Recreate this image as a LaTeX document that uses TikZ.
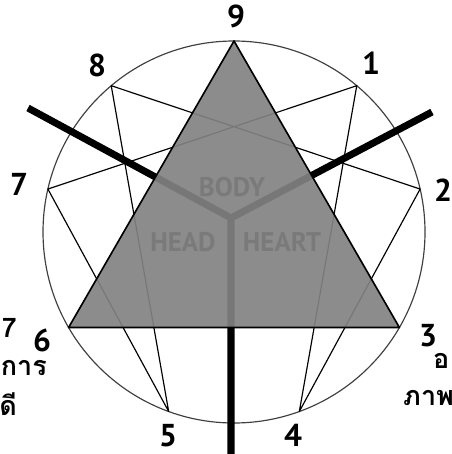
\documentclass[tikz,border=0pt]{standalone}
\usepackage{fontspec}
\setmainfont{PT Sans}
\newfontfamily\thaifont[Script=Thai]{Loma}
\definecolor{trigray}{HTML}{828282}
\definecolor{ringgray}{HTML}{404040}

\tikzset{
  numlabel/.style={font=\bfseries\fontsize{27}{29}\selectfont, inner sep=0pt},
  centretext/.style={font=\bfseries\fontsize{23}{25}\selectfont, inner sep=0pt, text=black!85},
  thaitext/.style={font=\thaifont\bfseries\fontsize{23}{25}\selectfont, inner sep=0pt},
  hexline/.style={line width=1pt, black},
  spoke/.style={line width=6pt}
}

\begin{document}
\begin{tikzpicture}[x=0.03cm, y=-0.03cm]
  \clip (0,0) rectangle (451,454);

  % ring and its nine points
  \coordinate (c) at (234,232);
  \draw[ringgray, line width=1pt] (c) circle [radius=191];
  \foreach \n/\a in {9/-90,1/-50,2/-13,3/30,4/70,5/110,6/150,7/193,8/230}
    \coordinate (p\n) at ([shift={(\a:191)}]c);

  % hexad 1-4-2-8-5-7
  \draw[hexline, line join=round] (p1) -- (p4) -- (p2) -- (p8) -- (p5) -- (p7) -- cycle;

  % the three centres (show through the triangle)
  \coordinate (y0) at (231,218);
  \coordinate (yl) at (28,108);
  \coordinate (yr) at (432,112);
  \coordinate (yb) at (231,470);
  \draw[spoke] (yl) -- (y0) -- (yr) (y0) -- (yb);
  \node[centretext] (body)  at (232,187) {BODY};
  \node[centretext] (head)  at (183,242) {HEAD};
  \node[centretext] (heart) at (282,242) {HEART};

  % triangle 9-3-6
  \fill[trigray, fill opacity=0.92] (p9) -- (p3) -- (p6) -- cycle;
  \draw[line width=1.4pt, line join=round] (p9) -- (p3) -- (p6) -- cycle;

  % point numbers
  \node[numlabel] (n9) at (236,16)  {9};
  \node[numlabel] (n1) at (371,63)  {1};
  \node[numlabel] (n2) at (443,190) {2};
  \node[numlabel] (n3) at (428,336) {3};
  \node[numlabel, anchor=base] (n4) at (293,446) {4};
  \node[numlabel, anchor=base] (n5) at (168,446) {5};
  \node[numlabel] (n6) at (42,340)  {6};
  \node[numlabel] (n7) at (19,184)  {7};
  \node[numlabel] (n8) at (97,65)   {8};

  % bits of the page's text round it
  \node[thaitext, anchor=base east] (tl1) at (17,337) {7};
  \node[thaitext, anchor=base east] (tl2) at (47,375) {การ};
  \node[thaitext, anchor=base east] (tl3) at (17,415) {ดี};
  \node[thaitext, anchor=base west] (tr1) at (433,368) {อ};
  \node[thaitext, anchor=base west] (tr2) at (403,405) {ภาพ};
\end{tikzpicture}
\end{document}
